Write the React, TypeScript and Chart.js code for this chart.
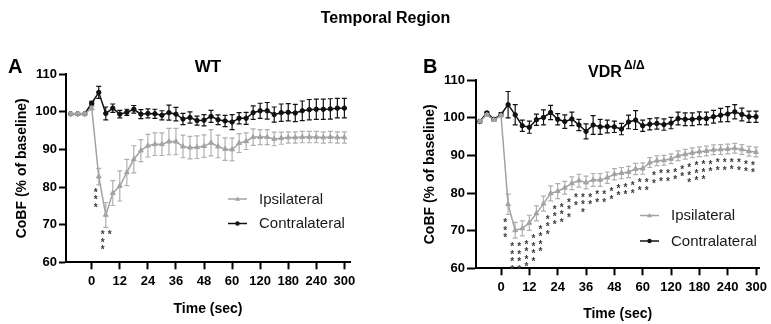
import React, { useEffect, useRef } from 'react';
import { Chart, registerables } from 'chart.js';

Chart.register(...registerables);

const FONT = "'Liberation Sans', Arial, Helvetica, sans-serif";

// ---- data ----
const times = [-9, -6, -3, 0, 3, 6, 9, 12, 15, 18, 21, 24, 27, 30, 33, 36, 39, 42, 45, 48, 51, 54, 57, 60,
  75, 90, 105, 120, 135, 150, 165, 180, 195, 210, 225, 240, 255, 270, 285, 300];
const xTickTimes = [0, 12, 24, 36, 48, 60, 120, 180, 240, 300];
const xTickLabels = ['0', '12', '24', '36', '48', '60', '120', '180', '240', '300'];
const seriesLabels = ['Ipsilateral', 'Contralateral'];

const wtIpsi = [99.5, 99.5, 99.5, 101.0, 82.8, 72.6, 78.4, 80.3, 83.9, 87.4, 89.7, 91.0, 91.4, 91.4, 92.1, 92.1, 90.8, 90.5, 90.6, 90.9, 91.8, 90.8, 90.1, 90.0,
  91.7, 92.2, 93.3, 93.3, 93.3, 92.8, 93.0, 93.2, 93.2, 93.3, 93.3, 93.3, 93.2, 93.3, 93.2, 93.2];
const wtIpsiErr = [0.3, 0.3, 0.3, 0.5, 2.2, 3.3, 3.3, 4.0, 3.5, 3.6, 2.9, 3.0, 3.0, 3.0, 3.5, 3.5, 3.0, 3.0, 3.0, 3.0, 3.5, 3.0, 3.0, 3.0,
  2.5, 2.2, 2.2, 2.0, 2.0, 1.8, 1.6, 1.5, 1.5, 1.5, 1.5, 1.5, 1.5, 1.5, 1.5, 1.5];
const wtContra = [99.5, 99.5, 99.5, 102.3, 105.2, 99.6, 101.0, 99.4, 99.9, 100.7, 99.4, 99.6, 99.5, 99.1, 99.8, 99.4, 98.1, 98.5, 97.7, 97.8, 98.8, 97.9, 97.6, 97.3,
  98.3, 98.3, 99.8, 100.3, 100.3, 99.3, 99.8, 99.9, 99.7, 100.3, 100.6, 100.7, 100.7, 100.8, 101.0, 101.0];
const wtContraErr = [0.3, 0.3, 0.3, 0.5, 1.6, 1.7, 1.1, 1.0, 0.8, 1.0, 1.2, 1.2, 1.2, 1.2, 2.0, 1.8, 1.5, 1.5, 1.2, 1.5, 1.6, 1.3, 1.5, 2.0,
  1.5, 1.6, 1.8, 2.0, 2.2, 2.0, 2.3, 2.3, 2.3, 2.6, 2.7, 2.7, 2.7, 2.7, 2.6, 2.6];
const wtStars = [0, 0, 0, 0, 3, 3, 1, 0, 0, 0, 0, 0, 0, 0, 0, 0, 0, 0, 0, 0, 0, 0, 0, 0,
  0, 0, 0, 0, 0, 0, 0, 0, 0, 0, 0, 0, 0, 0, 0, 0];

const vdrIpsi = [99.0, 100.8, 99.4, 100.6, 77.0, 70.1, 70.6, 72.1, 74.6, 77.2, 79.9, 80.5, 81.4, 82.6, 83.3, 82.8, 83.5, 83.5, 84.1, 85.0, 85.3, 85.6, 86.4, 86.5,
  88.1, 88.6, 88.7, 89.1, 89.9, 90.3, 90.7, 91.0, 91.2, 91.5, 91.6, 91.7, 91.9, 91.6, 91.1, 90.9];
const vdrIpsiErr = [0.3, 0.3, 0.3, 0.3, 2.7, 2.1, 2.0, 2.0, 2.0, 2.0, 2.0, 2.0, 1.7, 1.7, 1.7, 1.7, 1.7, 1.7, 1.5, 1.5, 1.5, 1.5, 1.5, 1.5,
  1.3, 1.3, 1.3, 1.3, 1.3, 1.3, 1.3, 1.3, 1.3, 1.3, 1.3, 1.3, 1.3, 1.3, 1.3, 1.3];
const vdrContra = [99.0, 101.3, 99.6, 100.9, 103.5, 100.8, 97.9, 97.5, 99.5, 100.1, 101.4, 99.6, 99.0, 99.7, 98.1, 96.4, 98.1, 97.6, 97.7, 97.6, 97.0, 98.9, 99.4, 97.9,
  98.3, 98.5, 98.2, 98.6, 99.8, 99.6, 99.6, 99.9, 99.8, 100.3, 100.7, 101.0, 101.6, 100.9, 100.3, 100.3];
const vdrContraErr = [0.3, 0.3, 0.3, 0.5, 3.5, 2.7, 1.5, 1.6, 1.5, 2.0, 1.9, 1.5, 1.8, 1.8, 1.5, 2.0, 2.5, 2.0, 1.7, 1.5, 1.5, 1.8, 2.5, 1.5,
  1.5, 1.5, 1.5, 1.5, 1.7, 1.7, 1.7, 1.7, 1.7, 1.7, 1.8, 2.0, 1.9, 1.7, 1.5, 1.5];
const vdrStars = [0, 0, 0, 0, 3, 4, 4, 4, 4, 4, 3, 3, 3, 3, 2, 3, 2, 2, 2, 2, 2, 2, 2, 2,
  2, 2, 2, 2, 2, 2, 3, 3, 3, 2, 2, 2, 2, 2, 2, 2];

// broken time axis: 0-60 s at 3 s per step, 60-300 s at 15 s per step
const axisPos = (t: number) => (t <= 60 ? t : 60 + (t - 60) / 5);

const GRAY = '#a3a3a3';
const GRAY_ERR = '#b0b0b0';
const BLACK = '#111111';

// ---- plugins ----
const errorBarPlugin = {
  id: 'errorBars',
  beforeDatasetDraw(chart: any, args: any) {
    const ds = chart.data.datasets[args.index];
    const errs: number[] = ds.errors;
    if (!errs) return;
    const xs = chart.scales.x;
    const ys = chart.scales.y;
    const ctx = chart.ctx;
    ctx.save();
    ctx.strokeStyle = ds.errorColor;
    ctx.lineWidth = 1.2;
    ds.data.forEach((pt: any, i: number) => {
      const px = xs.getPixelForValue(pt.x);
      const top = ys.getPixelForValue(pt.y + errs[i]);
      const bot = ys.getPixelForValue(pt.y - errs[i]);
      ctx.beginPath();
      ctx.moveTo(px, top);
      ctx.lineTo(px, bot);
      ctx.moveTo(px - 2.5, top);
      ctx.lineTo(px + 2.5, top);
      ctx.moveTo(px - 2.5, bot);
      ctx.lineTo(px + 2.5, bot);
      ctx.stroke();
    });
    ctx.restore();
  },
};

const starPlugin = {
  id: 'stars',
  afterDatasetsDraw(chart: any, _args: any, opts: any) {
    const counts: number[] = opts.counts;
    if (!counts) return;
    const ds = chart.data.datasets[0];
    const errs: number[] = ds.errors;
    const xs = chart.scales.x;
    const ys = chart.scales.y;
    const ctx = chart.ctx;
    ctx.save();
    ctx.fillStyle = '#3a3a3a';
    ctx.font = `bold 10px ${FONT}`;
    ctx.textAlign = 'center';
    ctx.textBaseline = 'alphabetic';
    ds.data.forEach((pt: any, i: number) => {
      const n = counts[i];
      if (!n) return;
      const lowHere = pt.y - errs[i];
      const prev = i > 0 ? ds.data[i - 1].y - errs[i - 1] : lowHere;
      const low = Math.min(lowHere, prev);
      const px = xs.getPixelForValue(pt.x) + opts.dx;
      const y0 = ys.getPixelForValue(low) + opts.gap;
      for (let k = 0; k < n; k++) {
        const cy = y0 + 2 + k * opts.spacing;
        ctx.fillText('*', px, cy + 5.8);
      }
    });
    ctx.restore();
  },
};

const legendPlugin = {
  id: 'customLegend',
  afterDraw(chart: any, _args: any, opts: any) {
    const ctx = chart.ctx;
    ctx.save();
    chart.data.datasets.forEach((ds: any, i: number) => {
      const y = opts.y + i * opts.rowGap;
      ctx.strokeStyle = ds.borderColor;
      ctx.lineWidth = 1.5;
      ctx.beginPath();
      ctx.moveTo(opts.x, y);
      ctx.lineTo(opts.x + 19, y);
      ctx.stroke();
      ctx.fillStyle = ds.borderColor;
      ctx.beginPath();
      if (ds.pointStyle === 'triangle') {
        const cx = opts.x + 9.5;
        ctx.moveTo(cx, y - 2.6);
        ctx.lineTo(cx + 2.6, y + 1.8);
        ctx.lineTo(cx - 2.6, y + 1.8);
        ctx.closePath();
      } else {
        ctx.arc(opts.x + 9.5, y, 2.2, 0, Math.PI * 2);
      }
      ctx.fill();
      ctx.fillStyle = '#1a1a1a';
      ctx.font = `15px ${FONT}`;
      ctx.textAlign = 'left';
      ctx.textBaseline = 'middle';
      ctx.fillText(ds.label, opts.x + 31, y + 0.5);
    });
    ctx.restore();
  },
};

const textPlugin = {
  id: 'panelText',
  afterDraw(chart: any, _args: any, opts: any) {
    const ctx = chart.ctx;
    ctx.save();
    ctx.fillStyle = '#000';
    ctx.textBaseline = 'alphabetic';
    (opts.items || []).forEach((it: any) => {
      ctx.font = it.font;
      ctx.textAlign = it.align || 'left';
      ctx.fillText(it.text, it.x, it.y);
    });
    ctx.restore();
  },
};

type Panel = {
  ipsi: number[]; ipsiErr: number[]; contra: number[]; contraErr: number[]; stars: number[];
  width: number; padding: any; xMin: number; xMax: number; yAxisWidth: number; xAxisHeight: number;
  yTitlePad: number; xTitlePad: number; yTickLen: number; legend: any; texts: any[]; starGap: number;
};

function buildConfig(p: Panel): any {
  const tickFont = { family: FONT, size: 13, weight: 'bold' as const };
  const titleFont = { family: FONT, size: 14, weight: 'bold' as const };
  return {
    type: 'line',
    data: {
      datasets: [
        {
          label: seriesLabels[0],
          data: times.map((t, i) => ({ x: axisPos(t), y: p.ipsi[i] })),
          errors: p.ipsiErr,
          errorColor: GRAY_ERR,
          borderColor: GRAY,
          backgroundColor: GRAY,
          pointBackgroundColor: GRAY,
          pointBorderColor: GRAY,
          pointStyle: 'triangle',
          pointRadius: 2.8,
          pointBorderWidth: 1,
          borderWidth: 1.5,
          tension: 0,
          clip: false,
        },
        {
          label: seriesLabels[1],
          data: times.map((t, i) => ({ x: axisPos(t), y: p.contra[i] })),
          errors: p.contraErr,
          errorColor: BLACK,
          borderColor: BLACK,
          backgroundColor: BLACK,
          pointBackgroundColor: BLACK,
          pointBorderColor: BLACK,
          pointStyle: 'circle',
          pointRadius: 2.2,
          pointBorderWidth: 1,
          borderWidth: 1.5,
          tension: 0,
          clip: false,
        },
      ],
    },
    options: {
      animation: false,
      responsive: false,
      devicePixelRatio: 1,
      layout: { padding: p.padding },
      plugins: {
        legend: { display: false },
        tooltip: { enabled: false },
        stars: { counts: p.stars, gap: p.starGap, spacing: 7.5, dx: -3 },
        customLegend: p.legend,
        panelText: { items: p.texts },
      },
      scales: {
        x: {
          type: 'linear',
          min: p.xMin,
          max: p.xMax,
          afterBuildTicks: (s: any) => {
            s.ticks = xTickTimes.map((t) => ({ value: axisPos(t) }));
          },
          afterFit: (s: any) => {
            s.height = p.xAxisHeight;
          },
          ticks: {
            autoSkip: false,
            maxRotation: 0,
            padding: 4,
            color: '#000',
            font: tickFont,
            callback: (_v: any, i: number) => xTickLabels[i],
          },
          grid: { drawOnChartArea: false, tickLength: 7, tickWidth: 2, tickColor: '#000' },
          border: { color: '#000', width: 2 },
          title: { display: true, text: 'Time (sec)', color: '#000', font: titleFont, padding: { top: 0, bottom: p.xTitlePad } },
        },
        y: {
          min: 60,
          max: 110,
          afterFit: (s: any) => {
            s.width = p.yAxisWidth;
          },
          ticks: { stepSize: 10, padding: 2, color: '#000', font: tickFont },
          grid: { drawOnChartArea: false, tickLength: p.yTickLen, tickWidth: 2, tickColor: '#000' },
          border: { color: '#000', width: 2 },
          title: { display: true, text: 'CoBF (% of baseline)', color: '#000', font: titleFont, padding: { top: p.yTitlePad, bottom: 0 } },
        },
      },
    },
    plugins: [errorBarPlugin, starPlugin, legendPlugin, textPlugin],
  };
}

const panelA: Panel = {
  ipsi: wtIpsi, ipsiErr: wtIpsiErr, contra: wtContra, contraErr: wtContraErr, stars: wtStars,
  width: 385,
  padding: { left: 0, right: 35, top: 74.3, bottom: 5.7 },
  xMin: -11, xMax: 110.4, yAxisWidth: 66, xAxisHeight: 56,
  yTitlePad: 14, xTitlePad: 1, yTickLen: 7,
  legend: { x: 228, y: 199, rowGap: 24.5 },
  starGap: 3,
  texts: [
    { text: 'A', x: 8, y: 73, font: `bold 20px ${FONT}` },
    { text: 'WT', x: 208, y: 72, font: `bold 17px ${FONT}`, align: 'center' },
  ],
};

const panelB: Panel = {
  ipsi: vdrIpsi, ipsiErr: vdrIpsiErr, contra: vdrContra, contraErr: vdrContraErr, stars: vdrStars,
  width: 386,
  padding: { left: 0, right: 11, top: 80.2, bottom: 0.7 },
  xMin: -10.6, xMax: 109.4, yAxisWidth: 91, xAxisHeight: 55,
  yTitlePad: 36.6, xTitlePad: 1, yTickLen: 9,
  legend: { x: 255, y: 215.5, rowGap: 25.5 },
  starGap: 4,
  texts: [
    { text: 'B', x: 38, y: 73, font: `bold 20px ${FONT}` },
    { text: 'VDR', x: 203, y: 77, font: `bold 16px ${FONT}` },
    { text: 'Δ/Δ', x: 239, y: 69, font: `bold 12px ${FONT}` },
  ],
};

function ChartPanel({ panel, left }: { panel: Panel; left: number }) {
  const ref = useRef<HTMLCanvasElement | null>(null);
  useEffect(() => {
    if (!ref.current) return;
    const chart = new Chart(ref.current, buildConfig(panel));
    return () => chart.destroy();
  }, [panel]);
  return (
    <canvas
      ref={ref}
      width={panel.width}
      height={324}
      style={{ position: 'absolute', left, top: 0, width: panel.width, height: 324 }}
    />
  );
}

export default function App() {
  return (
    <div style={{ position: 'fixed', left: 0, top: 0, width: 771, height: 324, background: '#fff', overflow: 'hidden' }}>
      <ChartPanel panel={panelA} left={0} />
      <ChartPanel panel={panelB} left={385} />
      <div
        style={{
          position: 'absolute', left: 0, top: 8, width: 771, textAlign: 'center',
          fontFamily: FONT, fontWeight: 'bold', fontSize: 16, lineHeight: '20px', color: '#000',
        }}
      >
        Temporal Region
      </div>
    </div>
  );
}
